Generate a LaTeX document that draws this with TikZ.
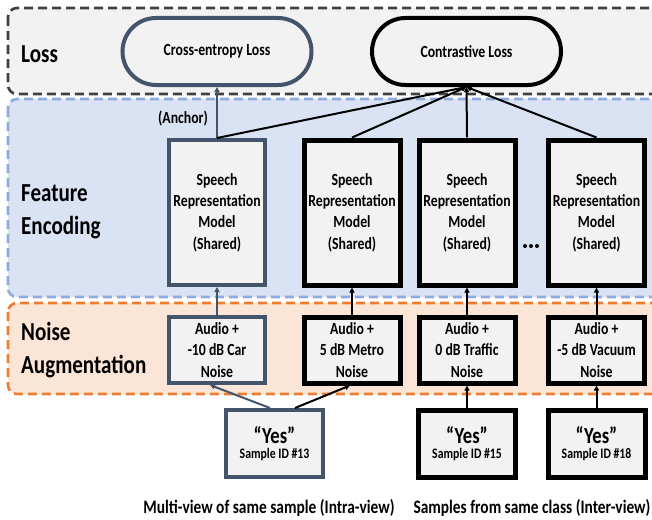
\documentclass[tikz,border=0pt]{standalone}
\usepackage{fontspec}
\setmainfont{Carlito}[FakeStretch=0.81]
\usetikzlibrary{arrows.meta,shapes.misc,calc}
\definecolor{slate}{HTML}{44546A}
\definecolor{boxfill}{HTML}{F2F2F2}
\definecolor{lossfill}{HTML}{F2F2F2}
\definecolor{lossdash}{HTML}{404040}
\definecolor{bluefill}{HTML}{DAE3F3}
\definecolor{bluedash}{HTML}{8FAADC}
\definecolor{orfill}{HTML}{FBE5D6}
\definecolor{ordash}{HTML}{ED7D31}
\tikzset{
  band/.style={line width=2.6pt, dash pattern=on 9pt off 5pt, rounded corners=9pt},
  sectlabel/.style={font=\bfseries\fontsize{26}{33}\selectfont, align=left, anchor=west, inner sep=0pt},
  boxtext/.style={font=\bfseries\fontsize{17}{21.3}\selectfont, align=center},
  spbox/.style={boxtext, rectangle, fill=boxfill, minimum width=96pt, minimum height=145pt, inner sep=0pt},
  aubox/.style={boxtext, rectangle, fill=boxfill, minimum width=96pt, minimum height=66pt, inner sep=0pt},
  yesbox/.style={rectangle, fill=boxfill, minimum width=97pt, minimum height=67pt, inner sep=0pt, align=center},
  lossbox/.style={boxtext, rounded rectangle, fill=boxfill, minimum width=189pt, minimum height=67pt, inner sep=0pt},
  anchorline/.style={draw=slate, line width=4pt},
  posline/.style={draw=black, line width=5pt},
  conn/.style={line width=2pt, -{Triangle[length=5pt,width=5pt]}},
  bottomtext/.style={font=\bfseries\fontsize{19}{23}\selectfont, inner sep=0pt}
}
\newcommand{\yestext}[1]{{\bfseries\fontsize{23}{26}\selectfont “Yes”}\\[3pt]{\bfseries\fontsize{14.5}{17}\selectfont Sample ID \##1}}
\begin{document}
\begin{tikzpicture}[x=1pt,y=-1pt]
\useasboundingbox (0,0) rectangle (652,519);
\begin{scope}
\clip (0,0) rectangle (652,519);
% bands
\draw[band, draw=lossdash, fill=lossfill] (8,8) rectangle (680,94);
\draw[band, draw=bluedash, fill=bluefill] (8,99) rectangle (680,297);
\draw[band, draw=ordash, fill=orfill] (8,303) rectangle (680,394);
\end{scope}

% section labels
\node[sectlabel] (lLoss) at (21,54) {Loss};
\node[sectlabel] (lFeat) at (21,212) {Feature\\Encoding};
\node[sectlabel] (lNoise) at (21,350.5) {Noise\\Augmentation};

% loss nodes
\node[lossbox, anchorline, line width=4pt] (ce) at (217,51.5) {Cross-entropy Loss};
\node[lossbox, draw=black, line width=4pt] (cl) at (466.5,51.5) {Contrastive Loss};

% speech representation models
\node[spbox, anchorline] (sp1) at (217,212.5) {Speech\\Representation\\Model\\(Shared)};
\node[spbox, posline] (sp2) at (352,212.5) {Speech\\Representation\\Model\\(Shared)};
\node[spbox, posline] (sp3) at (467,212.5) {Speech\\Representation\\Model\\(Shared)};
\node[spbox, posline] (sp4) at (596.5,212.5) {Speech\\Representation\\Model\\(Shared)};

% dots
\coordinate (dots) at (531,246);
\fill (dots) ++(-6,0) circle (2pt) (dots) circle (2pt) (dots) ++(6,0) circle (2pt);

% audio boxes
\node[aubox, anchorline] (au1) at (217,350) {Audio +\\-10 dB Car\\Noise};
\node[aubox, posline] (au2) at (352,350) {Audio +\\5 dB Metro\\Noise};
\node[aubox, posline] (au3) at (467,350) {Audio +\\0 dB Traffic\\Noise};
\node[aubox, posline] (au4) at (596.5,350) {Audio +\\-5 dB Vacuum\\Noise};

% yes boxes
\node[yesbox, anchorline] (y1) at (274.5,443.5) {\yestext{13}};
\node[yesbox, posline] (y2) at (467,443.5) {\yestext{15}};
\node[yesbox, posline] (y3) at (596.5,443.5) {\yestext{18}};

% (Anchor) label
\node[boxtext, inner sep=0pt] (anc) at (183,118) {(Anchor)};

% connectors to losses
\draw[conn, slate] (sp1.north) -- (ce.south);
\draw[conn] (sp1.north) -- (cl.south);
\draw[conn] (sp2.north) -- (cl.south);
\draw[conn] (sp3.north) -- (cl.south);
\draw[conn] (sp4.north) -- (cl.south);

% audio to models
\draw[conn, slate] (au1.north) -- (sp1.south);
\draw[conn] (au2.north) -- (sp2.south);
\draw[conn] (au3.north) -- (sp3.south);
\draw[conn] (au4.north) -- (sp4.south);

% samples to audio
\draw[conn, slate] ($(y1.north)+(-4.5,0)$) -- ($(au1.south)+(-7,0)$);
\draw[conn] ($(y1.north)+(20.5,0)$) -- ($(au2.south)+(-2,0)$);
\draw[conn] (y2.north) -- (au3.south);
\draw[conn] (y3.north) -- (au4.south);

% bottom texts
\node[bottomtext] (b1) at (269,508) {Multi-view of same sample (Intra-view)};
\node[bottomtext] (b2) at (532,508) {Samples from same class (Inter-view)};
\end{tikzpicture}
\end{document}
